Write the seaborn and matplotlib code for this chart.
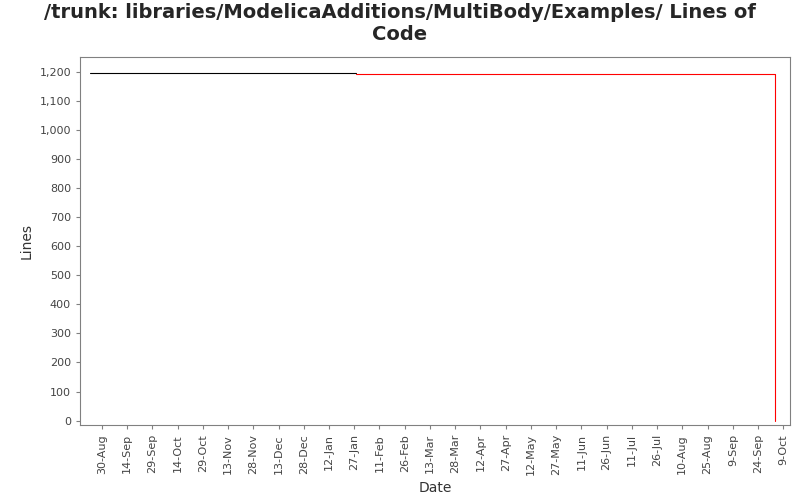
import matplotlib
matplotlib.use("Agg")
import matplotlib.pyplot as plt
import matplotlib.dates as mdates
import seaborn as sns
import pandas as pd

black_dates = ["2006-08-23", "2007-01-28"]
black_lines = [1195, 1195]
red_dates = ["2007-01-28", "2007-10-04", "2007-10-04"]
red_lines = [1190, 1190, 0]

sns.set_style("white")
plt.rcParams['font.family'] = ['DejaVu Sans']
fig = plt.figure(figsize=(8, 5), dpi=100)
ax = fig.add_axes([80/800, 1-425/500, 710/800, 368/500])

bd = pd.DataFrame({"date": pd.to_datetime(black_dates), "lines": black_lines})
rd = pd.DataFrame({"date": pd.to_datetime(red_dates), "lines": red_lines})
sns.lineplot(data=bd, x="date", y="lines", ax=ax, color="black", linewidth=0.8,
             drawstyle="steps-post", estimator=None, sort=False)
sns.lineplot(data=rd, x="date", y="lines", ax=ax, color="red", linewidth=0.8,
             drawstyle="steps-post", estimator=None, sort=False)

ax.set_xlim(pd.Timestamp("2006-08-17"), pd.Timestamp("2007-10-13"))
ax.set_ylim(-15, 1250)
ax.set_yticks(range(0, 1201, 100))
ax.yaxis.set_major_formatter(matplotlib.ticker.FuncFormatter(lambda v, p: f"{int(v):,}"))
ticks = pd.date_range("2006-08-30", "2007-10-09", freq="15D")
ax.set_xticks(ticks)
ax.xaxis.set_major_formatter(mdates.DateFormatter("%-d-%b"))
plt.setp(ax.get_xticklabels(), rotation=90, fontsize=8, color="#444444")
plt.setp(ax.get_yticklabels(), fontsize=8, color="#444444")
ax.tick_params(axis="both", length=3, color="gray", bottom=True, left=True)
for s in ax.spines.values():
    s.set_color("gray"); s.set_linewidth(0.8)
ax.set_xlabel("Date", fontsize=10, color="#333333")
ax.set_ylabel("Lines", fontsize=10, color="#333333")
fig.suptitle("/trunk: libraries/ModelicaAdditions/MultiBody/Examples/ Lines of\nCode",
             fontsize=14, fontweight="bold", y=0.995)
fig.savefig("out.png", dpi=100)
